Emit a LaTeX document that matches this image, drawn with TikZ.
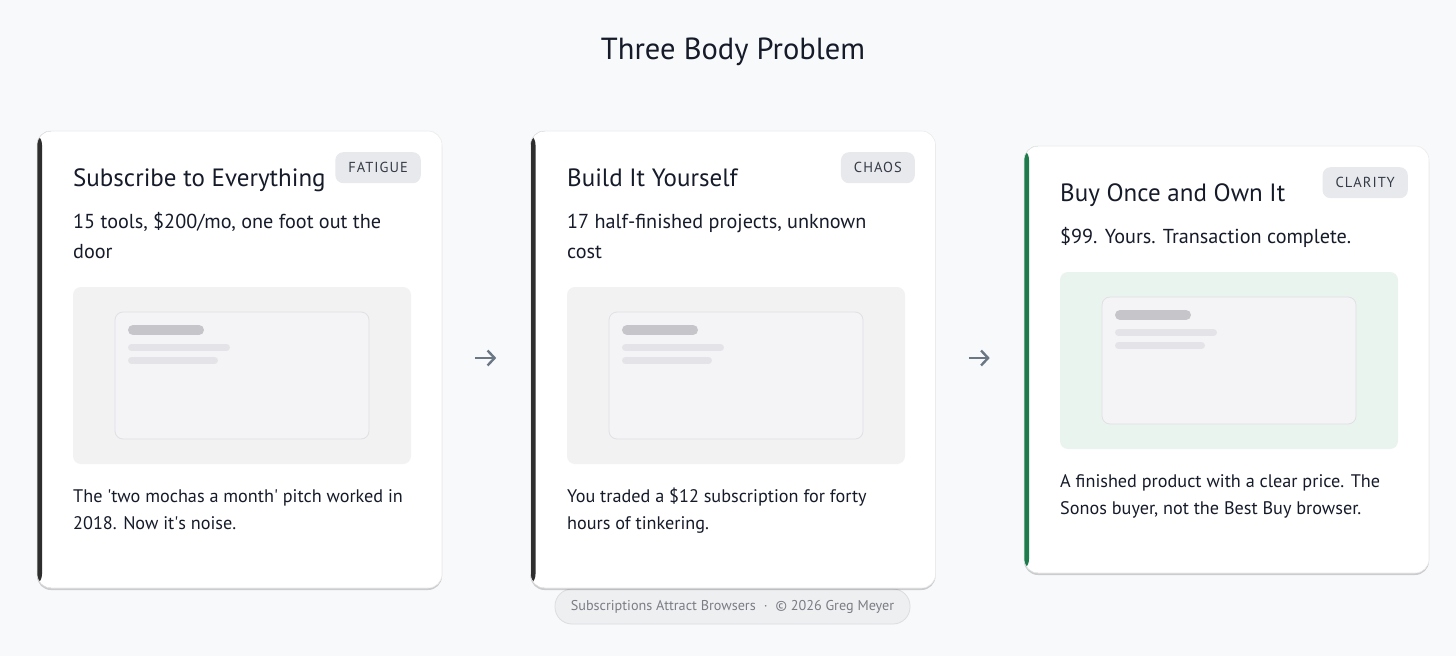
\documentclass[tikz,border=0pt]{standalone}
\usepackage{fontspec}
\setmainfont{PT Sans}
\usetikzlibrary{arrows.meta,shadows}
\definecolor{bg}{HTML}{F8F9FB}
\definecolor{ink}{HTML}{161B2A}
\definecolor{darkedge}{HTML}{2E2E2E}
\definecolor{greenedge}{HTML}{1E7B4C}
\definecolor{badgefill}{HTML}{E8E9ED}
\definecolor{badgeink}{HTML}{343A46}
\definecolor{phgray}{HTML}{F2F2F2}
\definecolor{phgreen}{HTML}{EAF4EE}
\definecolor{innerfill}{HTML}{F4F4F6}
\definecolor{innerline}{HTML}{E0E0E5}
\definecolor{barA}{HTML}{C5C5CA}
\definecolor{barB}{HTML}{E4E4E8}
\definecolor{arrowc}{HTML}{6B7785}
\definecolor{footfill}{HTML}{EEEFF1}
\definecolor{footline}{HTML}{DCDDE0}
\definecolor{footink}{HTML}{7A7D84}
\tikzset{
  card/.style={draw=black!8, line width=0.6pt, fill=white, rounded corners=14pt,
    minimum width=405pt, inner sep=0pt,
    drop shadow={shadow xshift=0pt, shadow yshift=-2pt, fill=black, opacity=0.18},
    path picture={\fill[#1] (path picture bounding box.south west) rectangle ([xshift=5pt]path picture bounding box.north west);}},
  ctitle/.style={anchor=base west, inner sep=0pt, text=ink, font=\fontsize{25}{30}\selectfont},
  csub/.style={anchor=base west, inner sep=0pt, text=ink, align=left, font=\fontsize{20.2}{30}\selectfont},
  cbody/.style={anchor=base west, inner sep=0pt, text=ink, align=left, font=\fontsize{18.2}{27}\selectfont},
  badge/.style={anchor=north east, fill=badgefill, text=badgeink, rounded corners=8pt,
    minimum height=31pt, inner xsep=13pt, inner ysep=0pt, font=\fontsize{14.5}{14}\selectfont\addfontfeature{LetterSpace=7}},
  ph/.style={rounded corners=8pt},
  inner/.style={fill=innerfill, draw=innerline, line width=0.8pt, rounded corners=8pt},
  bar/.style={line cap=round},
  flow/.style={draw=arrowc, line width=2.4pt, -{Straight Barb[length=7pt,width=15pt]}, shorten <=33pt, shorten >=34pt},
}
\newcommand\placeholder[3]{% x y fillcolor
  \fill[ph,#3] (#1,#2) rectangle ++(338,177);
  \filldraw[inner] (#1+42,#2+25) rectangle ++(254,127);
  \draw[bar,barA,line width=10pt] (#1+60,#2+43) -- ++(66,0);
  \draw[bar,barB,line width=7pt] (#1+58.5,#2+60.5) -- ++(95,0);
  \draw[bar,barB,line width=7pt] (#1+58.5,#2+73.5) -- ++(83,0);
}
\begin{document}
\begin{tikzpicture}[x=1pt,y=-1pt]
\fill[bg] (0,0) rectangle (1456,656);
\useasboundingbox (0,0) rectangle (1456,656);
\node[anchor=base, inner sep=0pt, text=ink, font=\fontsize{30.5}{32}\selectfont] (title) at (733,59.5) {Three Body Problem};

% footer pill (under card 2)
\node[fill=footfill, draw=footline, line width=0.8pt, rounded corners=17pt, minimum width=355pt, minimum height=35pt,
  text=footink, font=\fontsize{14.2}{14}\selectfont] (foot) at (732.5,606.5)
  {Subscriptions Attract Browsers\hspace{8pt}·\hspace{8pt}© 2026 Greg Meyer};

% cards
\node[card=darkedge, minimum height=457pt] (c1) at (239.5,359.5) {};
\node[card=darkedge, minimum height=457pt] (c2) at (733,359.5) {};
\node[card=greenedge, minimum height=427pt] (c3) at (1226.5,359.5) {};

% card 1
\node[ctitle] (t1) at (73,186) {Subscribe to Everything};
\node[badge] (b1) at (421,152) {FATIGUE};
\node[csub] (s1) at (73,258) {15 tools, \$200/mo, one foot out the\\door};
\placeholder{73}{287}{phgray}
\node[cbody] (d1) at (73,529) {The \textquotesingle two mochas a month\textquotesingle{} pitch worked in\\2018. Now it\textquotesingle s noise.};

% card 2
\node[ctitle] (t2) at (567,186) {Build It Yourself};
\node[badge] (b2) at (915,152) {CHAOS};
\node[csub] (s2) at (567,258) {17 half-finished projects, unknown\\cost};
\placeholder{567}{287}{phgray}
\node[cbody] (d2) at (567,529) {You traded a \$12 subscription for forty\\hours of tinkering.};

% card 3
\node[ctitle] (t3) at (1060,201) {Buy Once and Own It};
\node[badge] (b3) at (1408,167) {CLARITY};
\node[csub] (s3) at (1060,243) {\$99. Yours. Transaction complete.};
\placeholder{1060}{272}{phgreen}
\node[cbody] (d3) at (1060,514) {A finished product with a clear price. The\\Sonos buyer, not the Best Buy browser.};

% arrows
\draw[flow] ([yshift=1.5pt]c1.east) -- ([yshift=1.5pt]c2.west);
\draw[flow] ([yshift=1.5pt]c2.east) -- ([yshift=1.5pt]c3.west);
\end{tikzpicture}
\end{document}
